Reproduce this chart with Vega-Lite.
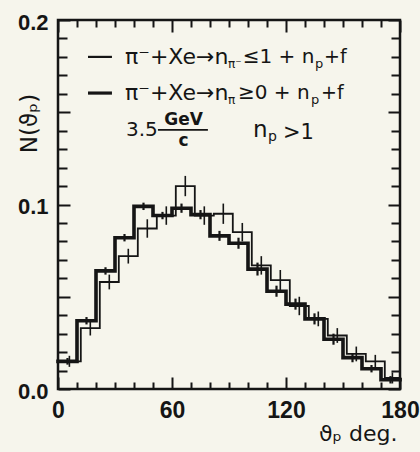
{
  "$schema": "https://vega.github.io/schema/vega-lite/v6.json",
  "width": 342,
  "height": 369,
  "autosize": {"type": "none"},
  "padding": {"left": 58, "top": 20, "right": 20, "bottom": 63},
  "background": "#f6f5ec",
  "config": {
    "view": {"stroke": "#151515", "strokeWidth": 2.5},
    "axis": {"domain": false, "ticks": false, "gridColor": "#151515", "gridOpacity": 1, "gridWidth": 2, "labelColor": "#151515", "titleColor": "#151515"}
  },
  "datasets": {
    "thick": [
      {"x": 0, "xc": 5, "n": 0.015, "e": 0.0018},
      {"x": 10, "xc": 15, "n": 0.037, "e": 0.002},
      {"x": 20, "xc": 25, "n": 0.064, "e": 0.002},
      {"x": 30, "xc": 35, "n": 0.082, "e": 0.002},
      {"x": 40, "xc": 45, "n": 0.099, "e": 0.002},
      {"x": 50, "xc": 55, "n": 0.094, "e": 0.002},
      {"x": 60, "xc": 65, "n": 0.098, "e": 0.0025},
      {"x": 70, "xc": 75, "n": 0.0945, "e": 0.0025},
      {"x": 80, "xc": 85, "n": 0.083, "e": 0.0027},
      {"x": 90, "xc": 95, "n": 0.079, "e": 0.003},
      {"x": 100, "xc": 105, "n": 0.065, "e": 0.0035},
      {"x": 110, "xc": 115, "n": 0.053, "e": 0.003},
      {"x": 120, "xc": 125, "n": 0.046, "e": 0.003},
      {"x": 130, "xc": 135, "n": 0.038, "e": 0.003},
      {"x": 140, "xc": 145, "n": 0.027, "e": 0.003},
      {"x": 150, "xc": 155, "n": 0.017, "e": 0.0025},
      {"x": 160, "xc": 165, "n": 0.011, "e": 0.002},
      {"x": 170, "xc": 175, "n": 0.005, "e": 0.002},
      {"x": 180, "n": 0.005}
    ],
    "thin": [
      {"x": 0, "xc": 6, "n": 0.015, "e": 0.003},
      {"x": 12, "xc": 17, "n": 0.033, "e": 0.004},
      {"x": 22, "xc": 27, "n": 0.058, "e": 0.004},
      {"x": 32, "xc": 37, "n": 0.072, "e": 0.004},
      {"x": 42, "xc": 47, "n": 0.087, "e": 0.005},
      {"x": 52, "xc": 57, "n": 0.094, "e": 0.005},
      {"x": 62, "xc": 67, "n": 0.11, "e": 0.0055},
      {"x": 72, "xc": 77, "n": 0.094, "e": 0.005},
      {"x": 82, "xc": 87, "n": 0.095, "e": 0.0055},
      {"x": 92, "xc": 97, "n": 0.085, "e": 0.005},
      {"x": 102, "xc": 107, "n": 0.067, "e": 0.005},
      {"x": 112, "xc": 117, "n": 0.059, "e": 0.0055},
      {"x": 122, "xc": 127, "n": 0.045, "e": 0.005},
      {"x": 132, "xc": 137, "n": 0.038, "e": 0.004},
      {"x": 142, "xc": 147, "n": 0.029, "e": 0.004},
      {"x": 152, "xc": 157, "n": 0.019, "e": 0.004},
      {"x": 162, "xc": 167, "n": 0.015, "e": 0.0035},
      {"x": 172, "xc": 176, "n": 0.006, "e": 0.003},
      {"x": 180, "n": 0.006}
    ]
  },
  "layer": [
    {
      "data": {"name": "thick"},
      "mark": {"type": "line", "interpolate": "step-after", "strokeWidth": 3.6, "color": "#151515", "strokeJoin": "miter", "strokeCap": "square"},
      "encoding": {
        "x": {"field": "x", "type": "quantitative", "scale": {"domain": [0, 180], "nice": false, "zero": false}, "axis": {"orient": "bottom", "tickCount": 18, "labelExpr": "datum.value % 60 === 0 ? datum.label : ''", "grid": true, "gridDash": {"condition": {"test": "datum.value % 60 === 0", "value": [12, 345]}, "value": [7, 355]}, "labelFont": "Liberation Sans", "labelFontSize": 23, "labelFontWeight": "bold", "labelPadding": 10, "labelOverlap": false, "labelFlush": false, "labelBound": false, "title": "ϑₚ deg.", "titleFont": "DejaVu Sans", "titleFontSize": 22, "titleFontWeight": "normal", "titleX": 339, "titleY": 44, "titleAlign": "right", "titleBaseline": "middle"}},
        "y": {"field": "n", "type": "quantitative", "scale": {"domain": [0, 0.2], "nice": false, "zero": false}, "axis": {"orient": "left", "tickCount": 20, "labelExpr": "round(datum.value * 100) % 10 === 0 ? format(datum.value, '.1f') : ''", "grid": true, "gridDash": {"condition": {"test": "round(datum.value * 100) % 5 === 0", "value": [12, 318]}, "value": [9, 324]}, "labelFont": "Liberation Sans", "labelFontSize": 22, "labelFontWeight": "bold", "labelPadding": 10, "labelOffset": 2, "labelBaseline": "middle", "labelOverlap": false, "labelFlush": false, "labelBound": false, "title": "N(ϑₚ)", "titleFont": "DejaVu Sans", "titleFontSize": 23, "titleFontWeight": "normal", "titleX": -29, "titleY": 103, "titleAngle": -90, "titleAlign": "center", "titleBaseline": "middle"}}
      }
    },
    {
      "data": {"name": "thin"},
      "mark": {"type": "line", "interpolate": "step-after", "strokeWidth": 1.8, "color": "#151515", "strokeJoin": "miter", "strokeCap": "square"},
      "encoding": {
        "x": {"field": "x", "type": "quantitative", "scale": {"domain": [0, 180], "nice": false, "zero": false}, "axis": {"orient": "bottom", "tickCount": 18, "labelExpr": "datum.value % 60 === 0 ? datum.label : ''", "grid": true, "gridDash": {"condition": {"test": "datum.value % 60 === 0", "value": [12, 345]}, "value": [7, 355]}, "labelFont": "Liberation Sans", "labelFontSize": 23, "labelFontWeight": "bold", "labelPadding": 10, "labelOverlap": false, "labelFlush": false, "labelBound": false, "title": "ϑₚ deg.", "titleFont": "DejaVu Sans", "titleFontSize": 22, "titleFontWeight": "normal", "titleX": 339, "titleY": 44, "titleAlign": "right", "titleBaseline": "middle"}},
        "y": {"field": "n", "type": "quantitative", "scale": {"domain": [0, 0.2], "nice": false, "zero": false}, "axis": {"orient": "left", "tickCount": 20, "labelExpr": "round(datum.value * 100) % 10 === 0 ? format(datum.value, '.1f') : ''", "grid": true, "gridDash": {"condition": {"test": "round(datum.value * 100) % 5 === 0", "value": [12, 318]}, "value": [9, 324]}, "labelFont": "Liberation Sans", "labelFontSize": 22, "labelFontWeight": "bold", "labelPadding": 10, "labelOffset": 2, "labelBaseline": "middle", "labelOverlap": false, "labelFlush": false, "labelBound": false, "title": "N(ϑₚ)", "titleFont": "DejaVu Sans", "titleFontSize": 23, "titleFontWeight": "normal", "titleX": -29, "titleY": 103, "titleAngle": -90, "titleAlign": "center", "titleBaseline": "middle"}}
      }
    },
    {
      "data": {"name": "thick"},
      "transform": [{"filter": "isValid(datum.xc)"}],
      "mark": {"type": "errorbar", "ticks": false, "color": "#151515", "rule": {"strokeWidth": 2.2}},
      "encoding": {
        "x": {"field": "xc", "type": "quantitative", "scale": {"domain": [0, 180], "nice": false, "zero": false}, "axis": {"orient": "bottom", "tickCount": 18, "labelExpr": "datum.value % 60 === 0 ? datum.label : ''", "grid": true, "gridDash": {"condition": {"test": "datum.value % 60 === 0", "value": [12, 345]}, "value": [7, 355]}, "labelFont": "Liberation Sans", "labelFontSize": 23, "labelFontWeight": "bold", "labelPadding": 10, "labelOverlap": false, "labelFlush": false, "labelBound": false, "title": "ϑₚ deg.", "titleFont": "DejaVu Sans", "titleFontSize": 22, "titleFontWeight": "normal", "titleX": 339, "titleY": 44, "titleAlign": "right", "titleBaseline": "middle"}},
        "y": {"field": "n", "type": "quantitative", "scale": {"domain": [0, 0.2], "nice": false, "zero": false}, "axis": {"orient": "left", "tickCount": 20, "labelExpr": "round(datum.value * 100) % 10 === 0 ? format(datum.value, '.1f') : ''", "grid": true, "gridDash": {"condition": {"test": "round(datum.value * 100) % 5 === 0", "value": [12, 318]}, "value": [9, 324]}, "labelFont": "Liberation Sans", "labelFontSize": 22, "labelFontWeight": "bold", "labelPadding": 10, "labelOffset": 2, "labelBaseline": "middle", "labelOverlap": false, "labelFlush": false, "labelBound": false, "title": "N(ϑₚ)", "titleFont": "DejaVu Sans", "titleFontSize": 23, "titleFontWeight": "normal", "titleX": -29, "titleY": 103, "titleAngle": -90, "titleAlign": "center", "titleBaseline": "middle"}},
        "yError": {"field": "e"}
      }
    },
    {
      "data": {"name": "thin"},
      "transform": [{"filter": "isValid(datum.xc)"}],
      "mark": {"type": "errorbar", "ticks": false, "color": "#151515", "rule": {"strokeWidth": 1.6}},
      "encoding": {
        "x": {"field": "xc", "type": "quantitative", "scale": {"domain": [0, 180], "nice": false, "zero": false}, "axis": {"orient": "bottom", "tickCount": 18, "labelExpr": "datum.value % 60 === 0 ? datum.label : ''", "grid": true, "gridDash": {"condition": {"test": "datum.value % 60 === 0", "value": [12, 345]}, "value": [7, 355]}, "labelFont": "Liberation Sans", "labelFontSize": 23, "labelFontWeight": "bold", "labelPadding": 10, "labelOverlap": false, "labelFlush": false, "labelBound": false, "title": "ϑₚ deg.", "titleFont": "DejaVu Sans", "titleFontSize": 22, "titleFontWeight": "normal", "titleX": 339, "titleY": 44, "titleAlign": "right", "titleBaseline": "middle"}},
        "y": {"field": "n", "type": "quantitative", "scale": {"domain": [0, 0.2], "nice": false, "zero": false}, "axis": {"orient": "left", "tickCount": 20, "labelExpr": "round(datum.value * 100) % 10 === 0 ? format(datum.value, '.1f') : ''", "grid": true, "gridDash": {"condition": {"test": "round(datum.value * 100) % 5 === 0", "value": [12, 318]}, "value": [9, 324]}, "labelFont": "Liberation Sans", "labelFontSize": 22, "labelFontWeight": "bold", "labelPadding": 10, "labelOffset": 2, "labelBaseline": "middle", "labelOverlap": false, "labelFlush": false, "labelBound": false, "title": "N(ϑₚ)", "titleFont": "DejaVu Sans", "titleFontSize": 23, "titleFontWeight": "normal", "titleX": -29, "titleY": 103, "titleAngle": -90, "titleAlign": "center", "titleBaseline": "middle"}},
        "yError": {"field": "e"}
      }
    },
    {
      "data": {"values": [{}]},
      "mark": {"type": "rule", "strokeWidth": 2.2, "color": "#151515"},
      "encoding": {
        "x": {"datum": 15.8, "type": "quantitative", "scale": {"domain": [0, 180], "nice": false, "zero": false}, "axis": {"orient": "bottom", "tickCount": 18, "labelExpr": "datum.value % 60 === 0 ? datum.label : ''", "grid": true, "gridDash": {"condition": {"test": "datum.value % 60 === 0", "value": [12, 345]}, "value": [7, 355]}, "labelFont": "Liberation Sans", "labelFontSize": 23, "labelFontWeight": "bold", "labelPadding": 10, "labelOverlap": false, "labelFlush": false, "labelBound": false, "title": "ϑₚ deg.", "titleFont": "DejaVu Sans", "titleFontSize": 22, "titleFontWeight": "normal", "titleX": 339, "titleY": 44, "titleAlign": "right", "titleBaseline": "middle"}},
        "x2": {"datum": 28.4},
        "y": {"datum": 0.18, "type": "quantitative", "scale": {"domain": [0, 0.2], "nice": false, "zero": false}, "axis": {"orient": "left", "tickCount": 20, "labelExpr": "round(datum.value * 100) % 10 === 0 ? format(datum.value, '.1f') : ''", "grid": true, "gridDash": {"condition": {"test": "round(datum.value * 100) % 5 === 0", "value": [12, 318]}, "value": [9, 324]}, "labelFont": "Liberation Sans", "labelFontSize": 22, "labelFontWeight": "bold", "labelPadding": 10, "labelOffset": 2, "labelBaseline": "middle", "labelOverlap": false, "labelFlush": false, "labelBound": false, "title": "N(ϑₚ)", "titleFont": "DejaVu Sans", "titleFontSize": 23, "titleFontWeight": "normal", "titleX": -29, "titleY": 103, "titleAngle": -90, "titleAlign": "center", "titleBaseline": "middle"}}
      }
    },
    {
      "data": {"values": [{}]},
      "mark": {"type": "rule", "strokeWidth": 3.2, "color": "#151515"},
      "encoding": {
        "x": {"datum": 15.8, "type": "quantitative", "scale": {"domain": [0, 180], "nice": false, "zero": false}, "axis": {"orient": "bottom", "tickCount": 18, "labelExpr": "datum.value % 60 === 0 ? datum.label : ''", "grid": true, "gridDash": {"condition": {"test": "datum.value % 60 === 0", "value": [12, 345]}, "value": [7, 355]}, "labelFont": "Liberation Sans", "labelFontSize": 23, "labelFontWeight": "bold", "labelPadding": 10, "labelOverlap": false, "labelFlush": false, "labelBound": false, "title": "ϑₚ deg.", "titleFont": "DejaVu Sans", "titleFontSize": 22, "titleFontWeight": "normal", "titleX": 339, "titleY": 44, "titleAlign": "right", "titleBaseline": "middle"}},
        "x2": {"datum": 28.4},
        "y": {"datum": 0.1604, "type": "quantitative", "scale": {"domain": [0, 0.2], "nice": false, "zero": false}, "axis": {"orient": "left", "tickCount": 20, "labelExpr": "round(datum.value * 100) % 10 === 0 ? format(datum.value, '.1f') : ''", "grid": true, "gridDash": {"condition": {"test": "round(datum.value * 100) % 5 === 0", "value": [12, 318]}, "value": [9, 324]}, "labelFont": "Liberation Sans", "labelFontSize": 22, "labelFontWeight": "bold", "labelPadding": 10, "labelOffset": 2, "labelBaseline": "middle", "labelOverlap": false, "labelFlush": false, "labelBound": false, "title": "N(ϑₚ)", "titleFont": "DejaVu Sans", "titleFontSize": 23, "titleFontWeight": "normal", "titleX": -29, "titleY": 103, "titleAngle": -90, "titleAlign": "center", "titleBaseline": "middle"}}
      }
    },
    {
      "data": {"values": [{}]},
      "mark": {"type": "rule", "strokeWidth": 1.8, "color": "#151515"},
      "encoding": {
        "x": {"datum": 52.6, "type": "quantitative", "scale": {"domain": [0, 180], "nice": false, "zero": false}, "axis": {"orient": "bottom", "tickCount": 18, "labelExpr": "datum.value % 60 === 0 ? datum.label : ''", "grid": true, "gridDash": {"condition": {"test": "datum.value % 60 === 0", "value": [12, 345]}, "value": [7, 355]}, "labelFont": "Liberation Sans", "labelFontSize": 23, "labelFontWeight": "bold", "labelPadding": 10, "labelOverlap": false, "labelFlush": false, "labelBound": false, "title": "ϑₚ deg.", "titleFont": "DejaVu Sans", "titleFontSize": 22, "titleFontWeight": "normal", "titleX": 339, "titleY": 44, "titleAlign": "right", "titleBaseline": "middle"}},
        "x2": {"datum": 78.9},
        "y": {"datum": 0.1404, "type": "quantitative", "scale": {"domain": [0, 0.2], "nice": false, "zero": false}, "axis": {"orient": "left", "tickCount": 20, "labelExpr": "round(datum.value * 100) % 10 === 0 ? format(datum.value, '.1f') : ''", "grid": true, "gridDash": {"condition": {"test": "round(datum.value * 100) % 5 === 0", "value": [12, 318]}, "value": [9, 324]}, "labelFont": "Liberation Sans", "labelFontSize": 22, "labelFontWeight": "bold", "labelPadding": 10, "labelOffset": 2, "labelBaseline": "middle", "labelOverlap": false, "labelFlush": false, "labelBound": false, "title": "N(ϑₚ)", "titleFont": "DejaVu Sans", "titleFontSize": 23, "titleFontWeight": "normal", "titleX": -29, "titleY": 103, "titleAngle": -90, "titleAlign": "center", "titleBaseline": "middle"}}
      }
    },
    {
      "data": {"values": [{}]},
      "layer": [
        {"mark": {"type": "text", "text": "π⁻+Xe→n", "font": "DejaVu Sans", "fontSize": 22, "align": "left", "baseline": "middle", "color": "#151515"},
          "encoding": {"x": {"datum": 35.3}, "y": {"datum": 0.18}}},
        {"mark": {"type": "text", "text": "π⁻", "font": "DejaVu Sans", "fontSize": 12, "align": "left", "baseline": "middle", "color": "#151515"},
          "encoding": {"x": {"datum": 89.5}, "y": {"datum": 0.1763}}},
        {"mark": {"type": "text", "text": "≤1 + n", "font": "DejaVu Sans", "fontSize": 20, "align": "left", "baseline": "middle", "color": "#151515"},
          "encoding": {"x": {"datum": 97.2}, "y": {"datum": 0.18}}},
        {"mark": {"type": "text", "text": "p", "font": "DejaVu Sans", "fontSize": 13, "align": "left", "baseline": "middle", "color": "#151515"},
          "encoding": {"x": {"datum": 135.3}, "y": {"datum": 0.1763}}},
        {"mark": {"type": "text", "text": "+f", "font": "DejaVu Sans", "fontSize": 19, "align": "left", "baseline": "middle", "color": "#151515"},
          "encoding": {"x": {"datum": 140.0}, "y": {"datum": 0.18}}},
        {"mark": {"type": "text", "text": "π⁻+Xe→n", "font": "DejaVu Sans", "fontSize": 22, "align": "left", "baseline": "middle", "color": "#151515"},
          "encoding": {"x": {"datum": 35.3}, "y": {"datum": 0.1604}}},
        {"mark": {"type": "text", "text": "π", "font": "DejaVu Sans", "fontSize": 12, "align": "left", "baseline": "middle", "color": "#151515"},
          "encoding": {"x": {"datum": 89.5}, "y": {"datum": 0.1567}}},
        {"mark": {"type": "text", "text": "≥0 + n", "font": "DejaVu Sans", "fontSize": 20, "align": "left", "baseline": "middle", "color": "#151515"},
          "encoding": {"x": {"datum": 94.7}, "y": {"datum": 0.1604}}},
        {"mark": {"type": "text", "text": "p", "font": "DejaVu Sans", "fontSize": 13, "align": "left", "baseline": "middle", "color": "#151515"},
          "encoding": {"x": {"datum": 133.2}, "y": {"datum": 0.1567}}},
        {"mark": {"type": "text", "text": "+f", "font": "DejaVu Sans", "fontSize": 19, "align": "left", "baseline": "middle", "color": "#151515"},
          "encoding": {"x": {"datum": 138.4}, "y": {"datum": 0.1604}}},
        {"mark": {"type": "text", "text": "3.5", "font": "DejaVu Sans", "fontSize": 20, "align": "left", "baseline": "middle", "color": "#151515"},
          "encoding": {"x": {"datum": 35.8}, "y": {"datum": 0.1404}}},
        {"mark": {"type": "text", "text": "GeV", "font": "DejaVu Sans", "fontSize": 17, "fontWeight": "bold", "align": "center", "baseline": "middle", "color": "#151515"},
          "encoding": {"x": {"datum": 66.1}, "y": {"datum": 0.1458}}},
        {"mark": {"type": "text", "text": "c", "font": "DejaVu Sans", "fontSize": 17, "fontWeight": "bold", "align": "center", "baseline": "middle", "color": "#151515"},
          "encoding": {"x": {"datum": 66.1}, "y": {"datum": 0.1345}}},
        {"mark": {"type": "text", "text": "n", "font": "DejaVu Sans", "fontSize": 23, "align": "left", "baseline": "middle", "color": "#151515"},
          "encoding": {"x": {"datum": 102.6}, "y": {"datum": 0.1404}}},
        {"mark": {"type": "text", "text": "p", "font": "DejaVu Sans", "fontSize": 14, "align": "left", "baseline": "middle", "color": "#151515"},
          "encoding": {"x": {"datum": 110.5}, "y": {"datum": 0.1364}}},
        {"mark": {"type": "text", "text": ">1", "font": "DejaVu Sans", "fontSize": 21, "align": "left", "baseline": "middle", "color": "#151515"},
          "encoding": {"x": {"datum": 118.4}, "y": {"datum": 0.139}}}
      ],
      "encoding": {
        "x": {"type": "quantitative", "scale": {"domain": [0, 180], "nice": false, "zero": false}, "axis": {"orient": "bottom", "tickCount": 18, "labelExpr": "datum.value % 60 === 0 ? datum.label : ''", "grid": true, "gridDash": {"condition": {"test": "datum.value % 60 === 0", "value": [12, 345]}, "value": [7, 355]}, "labelFont": "Liberation Sans", "labelFontSize": 23, "labelFontWeight": "bold", "labelPadding": 10, "labelOverlap": false, "labelFlush": false, "labelBound": false, "title": "ϑₚ deg.", "titleFont": "DejaVu Sans", "titleFontSize": 22, "titleFontWeight": "normal", "titleX": 339, "titleY": 44, "titleAlign": "right", "titleBaseline": "middle"}},
        "y": {"type": "quantitative", "scale": {"domain": [0, 0.2], "nice": false, "zero": false}, "axis": {"orient": "left", "tickCount": 20, "labelExpr": "round(datum.value * 100) % 10 === 0 ? format(datum.value, '.1f') : ''", "grid": true, "gridDash": {"condition": {"test": "round(datum.value * 100) % 5 === 0", "value": [12, 318]}, "value": [9, 324]}, "labelFont": "Liberation Sans", "labelFontSize": 22, "labelFontWeight": "bold", "labelPadding": 10, "labelOffset": 2, "labelBaseline": "middle", "labelOverlap": false, "labelFlush": false, "labelBound": false, "title": "N(ϑₚ)", "titleFont": "DejaVu Sans", "titleFontSize": 23, "titleFontWeight": "normal", "titleX": -29, "titleY": 103, "titleAngle": -90, "titleAlign": "center", "titleBaseline": "middle"}}
      }
    }
  ]
}
